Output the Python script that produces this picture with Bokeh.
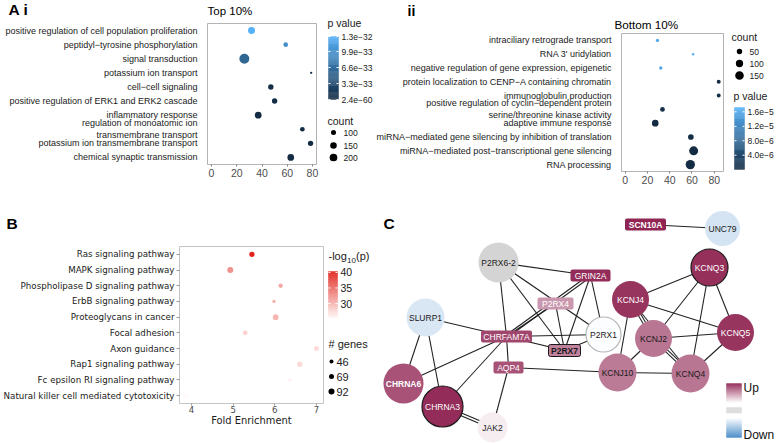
import math
import numpy as np
from bokeh.plotting import figure
from bokeh.models import (FactorRange, Range1d, LinearColorMapper, FixedTicker, ColumnDataSource)
from bokeh.layouts import row, column
from bokeh.transform import transform
from bokeh.embed import file_html
from bokeh.resources import INLINE
from bokeh.core.properties import value

SANS = "Liberation Sans"
DEJAVU = "DejaVu Sans"
NARROW = "Liberation Sans Narrow, DejaVu Sans Condensed"

# ---------------- Panel A i : Top 10% ----------------
ai_terms = ["positive regulation of cell population proliferation",
            "peptidyl\u2212tyrosine phosphorylation",
            "signal transduction",
            "potassium ion transport",
            "cell\u2212cell signaling",
            "positive regulation of ERK1 and ERK2 cascade",
            "inflammatory response",
            "regulation of monoatomic ion\ntransmembrane transport",
            "potassium ion transmembrane transport",
            "chemical synaptic transmission"]
ai_enrichment = [31.7, 58.8, 26.0, 79.0, 47.0, 50.0, 37.0, 72.0, 78.5, 62.8]
ai_count = [167, 92, 338, 66, 110, 110, 155, 92, 107, 155]
ai_pvalue = [1.3e-32, 9.7e-33, 5.8e-33, 2.0e-34, 4.0e-34, 3.0e-34, 1.0e-34, 1.0e-34, 5.0e-35, 2.4e-60]
ai_cb_ticks = [2.4e-60, 3.3e-33, 6.6e-33, 9.9e-33, 1.3e-32]
ai_cb_labels = ["2.4e\u221260", "3.3e\u221233", "6.6e\u221233", "9.9e\u221233", "1.3e\u221232"]
ai_size_breaks = [100, 150, 200]
ai_x_ticks = [0, 20, 40, 60, 80]

# ---------------- Panel A ii : Bottom 10% ----------------
aii_terms = ["intraciliary retrograde transport",
             "RNA 3' uridylation",
             "negative regulation of gene expression, epigenetic",
             "protein localization to CENP\u2212A containing chromatin",
             "immunoglobulin production",
             "positive regulation of cyclin\u2212dependent protein\nserine/threonine kinase activity",
             "adaptive immune response",
             "miRNA\u2212mediated gene silencing by inhibition of translation",
             "miRNA\u2212mediated post\u2212transcriptional gene silencing",
             "RNA processing"]
aii_enrichment = [29.0, 61.0, 32.0, 84.0, 84.0, 33.5, 27.0, 59.0, 61.5, 58.5]
aii_count = [22, 20, 22, 28, 28, 37, 81, 55, 166, 180]
aii_pvalue = [1.6e-5, 1.72e-5, 1.55e-5, 6e-7, 5e-7, 8e-7, 3e-7, 2e-7, 1e-7, 5e-8]
aii_cb_ticks = [4.0e-6, 8.0e-6, 1.2e-5, 1.6e-5]
aii_cb_labels = ["4.0e\u22126", "8.0e\u22126", "1.2e\u22125", "1.6e\u22125"]
aii_size_breaks = [50, 100, 150]
aii_x_ticks = [0, 20, 40, 60, 80]

# ---------------- Panel B : KEGG ----------------
b_terms = ["Ras signaling pathway", "MAPK signaling pathway", "Phospholipase D signaling pathway",
           "ErbB signaling pathway", "Proteoglycans in cancer", "Focal adhesion", "Axon guidance",
           "Rap1 signaling pathway", "Fc epsilon RI signaling pathway",
           "Natural killer cell mediated cytotoxicity"]
b_fold = [5.45, 4.93, 6.14, 5.98, 6.02, 5.29, 7.0, 6.6, 6.36, 3.86]
b_genes = [76, 92, 53, 30, 85, 62, 69, 76, 30, 30]
b_neglogp = [40.3, 32.5, 31.0, 30.5, 30.0, 28.0, 27.5, 27.5, 26.0, 25.6]
b_cb_ticks = [30, 35, 40]
b_cb_labels = ["30", "35", "40"]
b_size_breaks = [46, 69, 92]
b_x_ticks = [4, 5, 6, 7]

# ---------------- Panel C : network ----------------
net_nodes = ["SCN10A", "UNC79", "P2RX6-2", "GRIN2A", "KCNQ3", "KCNJ4", "P2RX4", "SLURP1",
             "CHRFAM7A", "P2RX1", "KCNJ2", "KCNQ5", "P2RX7", "AQP4", "KCNJ10", "KCNQ4",
             "CHRNA6", "CHRNA3", "JAK2"]
net_x = [645, 722, 498, 590, 709, 630, 555, 425, 506, 603, 653, 735, 564, 508, 617, 690, 403, 442, 492]
net_y = [224, 228, 262, 275, 267, 299, 303, 317, 336, 334, 338, 332, 350, 367, 372, 373, 383, 406, 427]
net_change = [0.95, -0.22, float("nan"), 0.92, 0.90, 0.88, 0.45, -0.20, 0.80, -0.02, 0.60, 0.88,
              0.55, 0.75, 0.58, 0.60, 0.75, 0.92, 0.08]
net_shape = ["box", "circle", "circle", "box", "circle", "circle", "box", "circle", "box", "circle",
             "circle", "circle", "box", "box", "circle", "circle", "circle", "circle", "circle"]
net_edges = [("SCN10A", "UNC79", 1), ("P2RX6-2", "GRIN2A", 1), ("P2RX6-2", "P2RX1", 1),
             ("P2RX6-2", "P2RX7", 1), ("P2RX6-2", "CHRFAM7A", 1), ("GRIN2A", "CHRFAM7A", 2),
             ("P2RX4", "CHRFAM7A", 1), ("GRIN2A", "P2RX7", 1), ("GRIN2A", "P2RX1", 1),
             ("P2RX4", "P2RX7", 1), ("SLURP1", "CHRFAM7A", 1), ("CHRFAM7A", "P2RX1", 1),
             ("CHRFAM7A", "P2RX7", 1), ("P2RX7", "P2RX1", 1), ("CHRFAM7A", "AQP4", 1),
             ("AQP4", "JAK2", 1), ("AQP4", "KCNJ10", 1), ("CHRFAM7A", "CHRNA6", 1),
             ("CHRFAM7A", "CHRNA3", 1), ("SLURP1", "CHRNA6", 1), ("SLURP1", "CHRNA3", 1),
             ("CHRNA3", "JAK2", 2), ("KCNJ4", "KCNQ3", 1), ("KCNJ4", "KCNQ5", 1),
             ("KCNJ4", "KCNJ2", 2), ("KCNJ4", "KCNQ4", 1), ("KCNJ4", "KCNJ10", 1),
             ("KCNQ3", "KCNJ2", 1), ("KCNQ3", "KCNQ4", 1), ("KCNQ3", "KCNQ5", 1),
             ("KCNJ2", "KCNQ5", 1), ("KCNJ2", "KCNJ10", 1), ("KCNJ2", "KCNQ4", 2),
             ("KCNJ10", "KCNQ4", 1), ("KCNQ4", "KCNQ5", 1)]

# ---------------- styles ----------------
node_size = [41, 17.5, 20, 40, 18.5, 18.5, 36, 19, 51, 17.5, 18.5, 18.5, 32, 30, 19, 19, 20, 20.5, 15]
node_text_color = ["white", "#1a1a1a", "#1a1a1a", "white", "white", "white", "white", "#1a1a1a",
                   "white", "#1a1a1a", "#1a1a1a", "white", "#1a1a1a", "white", "#1a1a1a", "#1a1a1a",
                   "white", "white", "#1a1a1a"]
node_bold = ["SCN10A", "P2RX7", "CHRNA6"]
node_edge = {"KCNQ3": "#1a1a1a", "CHRNA3": "#1a1a1a", "P2RX7": "#1a1a1a", "P2RX1": "#b5b5b5"}


def ramp(c0, c1, n):
    a = [int(c0[i:i + 2], 16) for i in (1, 3, 5)]
    b = [int(c1[i:i + 2], 16) for i in (1, 3, 5)]
    out = []
    for k in range(n):
        t = k / (n - 1) if n > 1 else 0.0
        out.append("#%02x%02x%02x" % tuple(int(round(a[j] + (b[j] - a[j]) * t)) for j in range(3)))
    return out


def size_ai(c):
    return 2.3 + 7.7 * math.sqrt(max(c - 66, 0) / 272.0)


def size_aii(c):
    return 2.5 + 6.8 * math.sqrt(max(c - 20, 0) / 160.0)


def size_b(c):
    return 4.0 + (c - 46) / 23.0


blue_pal = ramp("#132B43", "#56B1F7", 256)
red_pal = ramp("#FFF7F5", "#E2231A", 256)
UP, DOWN = "#8a1a4a", "#3d85c6"
net_pal = ramp(DOWN, "#ffffff", 128) + ramp("#ffffff", UP, 128)


def no_align(p):
    try:
        p.frame_align = False
    except Exception:
        pass


def dot_figure(width, height, xrange, terms, borders):
    p = figure(width=width, height=height, x_range=Range1d(*xrange),
               y_range=FactorRange(factors=list(reversed(terms))),
               output_backend="svg", toolbar_location=None,
               min_border_left=borders[0], min_border_right=borders[1],
               min_border_top=borders[2], min_border_bottom=borders[3])
    no_align(p)
    p.grid.visible = False
    p.outline_line_color = "#b3b3b3"
    p.background_fill_color = "white"
    p.border_fill_color = "white"
    yax = p.yaxis[0]
    yax.axis_line_color = None
    yax.major_tick_line_color = None
    yax.minor_tick_line_color = None
    yax.major_label_text_font = SANS
    yax.major_label_text_font_size = "9px"
    yax.major_label_text_color = "#1a1a1a"
    yax.major_label_standoff = 4
    xax = p.xaxis[0]
    xax.axis_line_color = None
    xax.minor_tick_line_color = None
    xax.major_tick_line_color = "#7f7f7f"
    xax.major_tick_in = 0
    xax.major_tick_out = 2
    xax.major_label_standoff = 2
    xax.major_label_text_font = SANS
    xax.major_label_text_font_size = "10.5px"
    xax.major_label_text_color = "#4d4d4d"
    return p


def free_figure(x0, x1, y0, y1):
    # a plain canvas whose coordinates are the page layout coordinates
    p = figure(width=x1 - x0, height=y1 - y0, x_range=Range1d(x0, x1),
               y_range=Range1d(y1, y0), output_backend="svg", toolbar_location=None,
               min_border=0, x_axis_type=None, y_axis_type=None)
    no_align(p)
    p.outline_line_color = None
    p.background_fill_color = "white"
    p.border_fill_color = "white"
    return p


def texts(p, xs, ys, txt, size, font=SANS, style="normal", color="#1a1a1a", align="left"):
    p.text(x=xs, y=ys, text=txt, text_font=value(font), text_font_size=value(size),
           text_font_style=style, text_color=color, text_baseline="middle", text_align=align)


def colorbar(p, palette, low, high, ticks, labels, x0, x1, ytop, ybot, fsize, gap=3, steps=60):
    def ypos(v):
        return ybot - (v - low) / (high - low) * (ybot - ytop)
    vals = np.linspace(low, high, steps + 1)
    cols = [palette[int(round((0.5 * (vals[k] + vals[k + 1]) - low) / (high - low) * (len(palette) - 1)))]
            for k in range(steps)]
    p.quad(left=[x0] * steps, right=[x1] * steps, top=[ypos(vals[k + 1]) for k in range(steps)],
           bottom=[ypos(vals[k]) for k in range(steps)], fill_color=cols, line_color=cols, line_width=0.3)
    ty = [ypos(t) for t in ticks]
    p.segment(x0=[x0] * len(ty), y0=ty, x1=[x0 + 2] * len(ty), y1=ty, line_color="white", line_width=1)
    p.segment(x0=[x1 - 2] * len(ty), y0=ty, x1=[x1] * len(ty), y1=ty, line_color="white", line_width=1)
    texts(p, [x1 + gap] * len(ty), ty, labels, fsize)


# ---------- A i ----------
hA1 = free_figure(0, 326, 0, 18)
texts(hA1, [8], [9], ["A i"], "15.5px", style="bold", color="black")
texts(hA1, [207], [10.5], ["Top 10%"], "11.5px", color="black")

pA1 = dot_figure(326, 177, (-3.2, 83.2), ai_terms, (207, 10, 5, 31))
pA1.xaxis.ticker = FixedTicker(ticks=ai_x_ticks)
mapA1 = LinearColorMapper(palette=blue_pal, low=min(ai_pvalue), high=max(ai_pvalue))
srcA1 = ColumnDataSource(dict(x=ai_enrichment, y=ai_terms, p=ai_pvalue,
                              s=[size_ai(c) for c in ai_count]))
pA1.scatter(x="x", y="y", size="s", source=srcA1, fill_color=transform("p", mapA1), line_color=None)

legA1 = free_figure(326, 373, 0, 195)
texts(legA1, [327, 327], [22.5, 120], ["p value", "count"], "10.5px")
colorbar(legA1, blue_pal, min(ai_pvalue), max(ai_pvalue), ai_cb_ticks, ai_cb_labels, 328, 338, 36, 99, "8.5px")
legA1.scatter(x=[333] * 3, y=[132, 145, 157], size=[size_ai(c) for c in ai_size_breaks],
              fill_color="black", line_color=None)
texts(legA1, [343] * 3, [132, 145, 157], [str(c) for c in ai_size_breaks], "8.5px")

# ---------- A ii ----------
hA2 = free_figure(373, 725, 0, 30)
texts(hA2, [407], [10], ["ii"], "14px", style="bold", color="black")
texts(hA2, [614], [23.5], ["Bottom 10%"], "11.7px", color="black")

pA2 = dot_figure(352, 165, (-3.3, 88.3), aii_terms, (240, 2, 3, 24))
pA2.xaxis.ticker = FixedTicker(ticks=aii_x_ticks)
mapA2 = LinearColorMapper(palette=blue_pal, low=min(aii_pvalue), high=max(aii_pvalue))
srcA2 = ColumnDataSource(dict(x=aii_enrichment, y=aii_terms, p=aii_pvalue,
                              s=[size_aii(c) for c in aii_count]))
pA2.scatter(x="x", y="y", size="s", source=srcA2, fill_color=transform("p", mapA2), line_color=None)

legA2 = free_figure(725, 780, 0, 195)
texts(legA2, [731, 733], [36, 95], ["count", "p value"], "10.5px")
legA2.scatter(x=[739] * 3, y=[51, 63, 75], size=[size_aii(c) for c in aii_size_breaks],
              fill_color="black", line_color=None)
texts(legA2, [749] * 3, [51, 63, 75], [str(c) for c in aii_size_breaks], "8.5px")
colorbar(legA2, blue_pal, min(aii_pvalue), max(aii_pvalue), aii_cb_ticks, aii_cb_labels, 734, 744, 107, 169, "8.5px")

# ---------- B ----------
hB = free_figure(0, 325, 195, 240)
texts(hB, [6], [223], ["B"], "15.5px", style="bold", color="black")

pB = figure(width=325, height=203, x_range=Range1d(3.71, 7.17),
            y_range=FactorRange(factors=list(reversed(b_terms))),
            output_backend="svg", toolbar_location=None,
            min_border_left=178, min_border_right=2, min_border_top=6, min_border_bottom=40)
no_align(pB)
pB.grid.visible = False
pB.outline_line_color = "#c4c4c4"
pB.background_fill_color = "white"
pB.border_fill_color = "white"
yb = pB.yaxis[0]
yb.axis_line_color = None
yb.major_tick_line_color = "#9a9a9a"
yb.major_tick_in = 0
yb.major_tick_out = 3
yb.major_label_standoff = 2
yb.major_label_text_font = DEJAVU
yb.major_label_text_font_size = "8.7px"
yb.major_label_text_color = "#1a1a1a"
xb = pB.xaxis[0]
xb.ticker = FixedTicker(ticks=b_x_ticks)
xb.axis_line_color = None
xb.minor_tick_line_color = None
xb.major_tick_line_color = "#9a9a9a"
xb.major_tick_in = 0
xb.major_tick_out = 2
xb.major_label_standoff = 0
xb.major_label_text_font = NARROW
xb.major_label_text_font_size = "9.5px"
xb.major_label_text_color = "#4d4d4d"
xb.axis_label = "Fold Enrichment"
xb.axis_label_text_font = NARROW
xb.axis_label_text_font_size = "11px"
xb.axis_label_text_font_style = "normal"
xb.axis_label_text_color = "#1a1a1a"
xb.axis_label_standoff = -2
mapB = LinearColorMapper(palette=red_pal, low=25.5, high=40.3)
srcB = ColumnDataSource(dict(x=b_fold, y=b_terms, v=b_neglogp, s=[size_b(c) for c in b_genes]))
pB.scatter(x="x", y="y", size="s", source=srcB, fill_color=transform("v", mapB), line_color=None)

legB = free_figure(325, 378, 195, 443)
texts(legB, [328], [255.5], ["-log"], "11px")
texts(legB, [346.5], [260], ["10"], "8px")
texts(legB, [355.5], [255.5], ["(p)"], "11px")
colorbar(legB, red_pal, 25.5, 40.3, b_cb_ticks, b_cb_labels, 328, 337, 271, 317, "10.5px")
texts(legB, [328], [343], ["# genes"], "11px")
legB.scatter(x=[331] * 3, y=[361, 376, 391], size=[size_b(c) for c in b_size_breaks],
             fill_color="black", line_color=None)
texts(legB, [336] * 3, [361, 376, 391], [str(c) for c in b_size_breaks], "11px")

# ---------- C ----------
pC = free_figure(378, 780, 195, 443)
pos = {n: (x, y) for n, x, y in zip(net_nodes, net_x, net_y)}
ex0, ey0, ex1, ey1 = [], [], [], []
for a, b, k in net_edges:
    (xa, ya), (xb_, yb_) = pos[a], pos[b]
    dx, dy = xb_ - xa, yb_ - ya
    L = math.hypot(dx, dy)
    nx, ny = -dy / L, dx / L
    offs = [0.0] if k == 1 else [-1.3, 1.3]
    for o in offs:
        ex0.append(xa + nx * o); ey0.append(ya + ny * o)
        ex1.append(xb_ + nx * o); ey1.append(yb_ + ny * o)
pC.segment(x0=ex0, y0=ey0, x1=ex1, y1=ey1, line_color="#222222", line_width=1.1)

mapC = LinearColorMapper(palette=net_pal, low=-1, high=1, nan_color="#d4d4d4")
circ = [i for i, s in enumerate(net_shape) if s == "circle"]
boxes = [i for i, s in enumerate(net_shape) if s == "box"]
srcCc = ColumnDataSource(dict(
    x=[net_x[i] for i in circ], y=[net_y[i] for i in circ],
    r=[node_size[i] for i in circ],
    chg=np.array([net_change[i] for i in circ], dtype=float),
    lc=[node_edge.get(net_nodes[i], "rgba(0,0,0,0)") for i in circ]))
pC.circle(x="x", y="y", radius="r", source=srcCc, fill_color=transform("chg", mapC),
          line_color="lc", line_width=1.2)
srcCb = ColumnDataSource(dict(
    x=[net_x[i] for i in boxes], y=[net_y[i] for i in boxes],
    w=[node_size[i] for i in boxes], h=[12] * len(boxes),
    chg=np.array([net_change[i] for i in boxes], dtype=float),
    lc=[node_edge.get(net_nodes[i], "rgba(0,0,0,0)") for i in boxes]))
try:
    pC.rect(x="x", y="y", width="w", height="h", source=srcCb, fill_color=transform("chg", mapC),
            line_color="lc", line_width=1.0, border_radius=2)
except Exception:
    pC.rect(x="x", y="y", width="w", height="h", source=srcCb, fill_color=transform("chg", mapC),
            line_color="lc", line_width=1.0)

for bold in (False, True):
    idx = [i for i, n in enumerate(net_nodes) if (n in node_bold) == bold]
    pC.text(x=[net_x[i] for i in idx], y=[net_y[i] + 0.5 for i in idx], text=[net_nodes[i] for i in idx],
            text_color=[node_text_color[i] for i in idx], text_font=value(SANS),
            text_font_size=value("8.5px"), text_font_style="bold" if bold else "normal",
            text_align="center", text_baseline="middle")

texts(pC, [383], [223], ["C"], "15.5px", style="bold", color="black")

# Up / Down legend
lg_rows = 54
up_part = ramp(UP, "#ffffff", 20)
down_part = ramp("#ffffff", DOWN, 20)
lg_cols = []
for i in range(lg_rows):
    if i < 20:
        lg_cols.append(up_part[i])
    elif i < 24:
        lg_cols.append("#ffffff")
    elif i < 30:
        lg_cols.append("#d9d9d9")
    elif i < 34:
        lg_cols.append("#ffffff")
    else:
        lg_cols.append(down_part[i - 34])
pC.quad(left=[726] * lg_rows, right=[741] * lg_rows, top=[383 + i for i in range(lg_rows)],
        bottom=[384 + i for i in range(lg_rows)], fill_color=lg_cols, line_color=lg_cols, line_width=0.3)
texts(pC, [743, 743], [387, 434], ["Up", "Down"], "12px", color="#111111")

top = row(column(hA1, pA1), legA1, column(hA2, pA2), legA2)
bottom = row(column(hB, pB), legB, pC)
layout = column(top, bottom)
open("out.html", "w", encoding="utf-8").write(file_html(layout, INLINE, title="chart"))
